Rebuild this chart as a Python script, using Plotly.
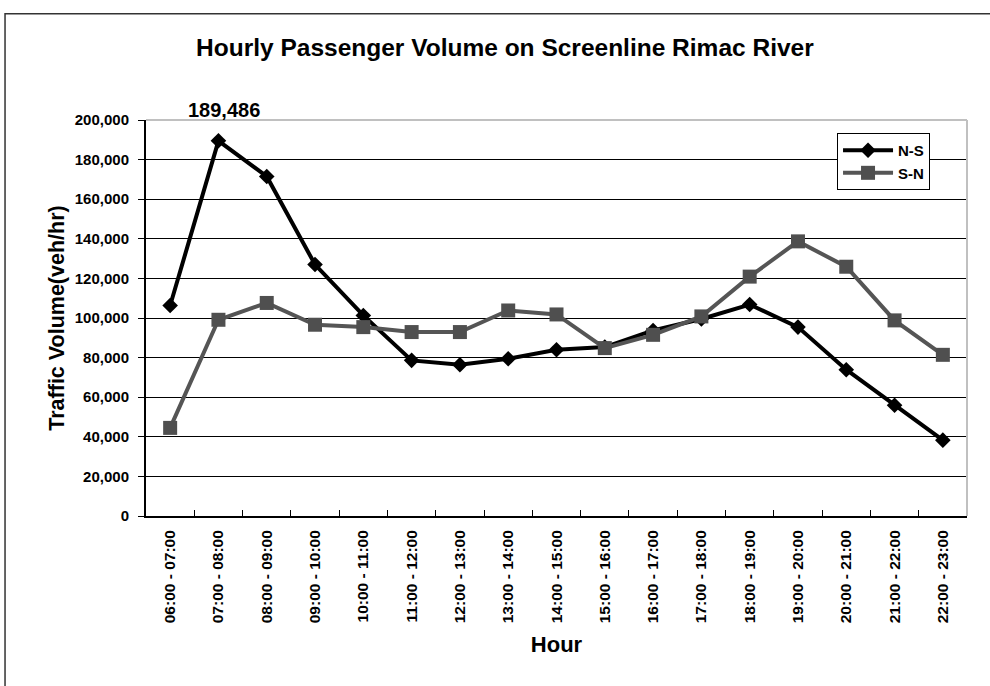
import plotly.graph_objects as go

categories = ["06:00 - 07:00", "07:00 - 08:00", "08:00 - 09:00", "09:00 - 10:00",
              "10:00 - 11:00", "11:00 - 12:00", "12:00 - 13:00", "13:00 - 14:00",
              "14:00 - 15:00", "15:00 - 16:00", "16:00 - 17:00", "17:00 - 18:00",
              "18:00 - 19:00", "19:00 - 20:00", "20:00 - 21:00", "21:00 - 22:00",
              "22:00 - 23:00"]
n_s = [106300, 189486, 171500, 127000, 101300, 78600, 76400, 79400, 84000,
       85300, 93700, 99500, 106800, 95400, 73900, 55900, 38300]
s_n = [44500, 99100, 107600, 96600, 95400, 92900, 92900, 103800, 101800,
       84800, 91500, 100800, 120900, 138700, 125900, 98800, 81400]
y_ticks = list(range(0, 200001, 20000))

FONT = "Liberation Sans, Arial, sans-serif"

fig = go.Figure()
fig.add_trace(go.Scatter(
    x=categories, y=n_s, name="N-S", mode="lines+markers",
    line=dict(color="#000000", width=4),
    marker=dict(symbol="diamond", size=12, color="#000000"),
))
fig.add_trace(go.Scatter(
    x=categories, y=s_n, name="S-N", mode="lines+markers",
    line=dict(color="#555555", width=4),
    marker=dict(symbol="square", size=14, color="#4f4f4f"),
))

peak_i = n_s.index(max(n_s))
fig.add_annotation(
    x=categories[peak_i], y=n_s[peak_i], text=f"{n_s[peak_i]:,}",
    showarrow=False, yshift=31, xshift=6,
    font=dict(family=FONT, size=20, color="#000000", weight="bold"),
)

# outer frame of the chart object
fig.add_shape(type="rect", xref="paper", yref="paper",
              x0=-0.1717, x1=1.05, y0=-0.5, y1=1.268,
              line=dict(color="#333333", width=1.5), layer="below")
# plot-area border (top and right, light grey)
fig.add_shape(type="line", xref="paper", yref="paper", x0=0, x1=1, y0=1, y1=1,
              line=dict(color="#c0c0c0", width=2))
fig.add_shape(type="line", xref="paper", yref="paper", x0=1, x1=1, y0=0, y1=1,
              line=dict(color="#c0c0c0", width=2))

fig.update_layout(
    width=990, height=686,
    paper_bgcolor="white", plot_bgcolor="white",
    margin=dict(l=146, r=23, t=120, b=170, autoexpand=False),
    title=dict(text="Hourly Passenger Volume on Screenline Rimac River",
               x=0.51, xanchor="center", y=0.931, yanchor="middle",
               font=dict(family=FONT, size=24.5, color="#000000", weight="bold")),
    legend=dict(x=0.8417, y=0.967, xanchor="left", yanchor="top",
                bgcolor="white", bordercolor="#000000", borderwidth=1,
                itemwidth=50,
                font=dict(family=FONT, size=15, color="#000000", weight="bold")),
    showlegend=True,
)
fig.update_xaxes(
    type="category", range=[-0.5, len(categories) - 0.5],
    tickangle=-90, tickson="boundaries",
    ticks="inside", ticklen=6, tickcolor="#000000", tickwidth=1,
    showline=True, linecolor="#000000", linewidth=2,
    showgrid=False, ticklabelstandoff=6,
    tickfont=dict(family=FONT, size=15.5, color="#000000", weight="bold"),
    title=dict(text="Hour", standoff=14,
               font=dict(family=FONT, size=22, color="#000000", weight="bold")),
)
fig.update_yaxes(
    range=[0, 200000], tickvals=y_ticks, tickformat=",",
    ticks="outside", ticklen=6, tickcolor="#000000",
    showline=True, linecolor="#000000", linewidth=2,
    showgrid=True, gridcolor="#000000", gridwidth=1, zeroline=False,
    ticklabelstandoff=6,
    tickfont=dict(family=FONT, size=15, color="#000000", weight="bold"),
    title=dict(text="Traffic Volume(veh/hr)", standoff=4,
               font=dict(family=FONT, size=21.5, color="#000000", weight="bold")),
)

fig.write_html("out.html", config={"displayModeBar": False},
               post_script="document.body.style.margin='0';")
